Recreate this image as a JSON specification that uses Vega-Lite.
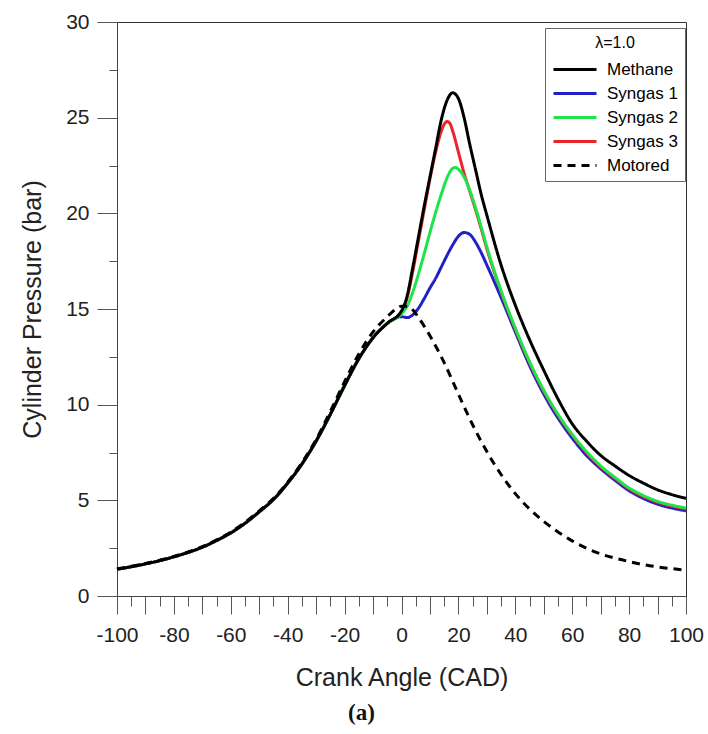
{
  "$schema": "https://vega.github.io/schema/vega-lite/v6.json",
  "width": 569,
  "height": 574,
  "autosize": {"type": "none"},
  "padding": {"left": 117, "top": 22, "right": 22, "bottom": 138},
  "background": "white",
  "config": {
    "view": {"stroke": "#333", "strokeWidth": 1},
    "font": "Liberation Sans",
    "axis": {"grid": false, "domainColor": "#444", "tickColor": "#555", "labelColor": "#222", "titleColor": "#222", "labelFont": "Liberation Sans", "titleFont": "Liberation Sans", "titleFontWeight": "normal"}
  },
  "title": {"text": "(a)", "orient": "bottom", "font": "Liberation Serif", "fontWeight": "bold", "fontSize": 23, "anchor": "middle", "dx": -40, "offset": 12, "color": "#111"},
  "data": {"values": [
    {"s":"Syngas 1","cad":-100,"p":1.4},{"s":"Syngas 1","cad":-95,"p":1.53},{"s":"Syngas 1","cad":-90,"p":1.68},{"s":"Syngas 1","cad":-85,"p":1.85},{"s":"Syngas 1","cad":-80,"p":2.05},{"s":"Syngas 1","cad":-75,"p":2.28},{"s":"Syngas 1","cad":-70,"p":2.55},{"s":"Syngas 1","cad":-65,"p":2.9},{"s":"Syngas 1","cad":-60,"p":3.3},{"s":"Syngas 1","cad":-55,"p":3.8},{"s":"Syngas 1","cad":-50,"p":4.4},{"s":"Syngas 1","cad":-45,"p":5.05},{"s":"Syngas 1","cad":-40,"p":5.9},{"s":"Syngas 1","cad":-35,"p":6.9},{"s":"Syngas 1","cad":-30,"p":8.1},{"s":"Syngas 1","cad":-25,"p":9.5},{"s":"Syngas 1","cad":-20,"p":11.0},{"s":"Syngas 1","cad":-15,"p":12.4},{"s":"Syngas 1","cad":-10,"p":13.5},{"s":"Syngas 1","cad":-5,"p":14.25},
    {"s":"Syngas 1","cad":0,"p":14.6},{"s":"Syngas 1","cad":2,"p":14.55},{"s":"Syngas 1","cad":4,"p":14.7},{"s":"Syngas 1","cad":6,"p":15.05},{"s":"Syngas 1","cad":8,"p":15.55},{"s":"Syngas 1","cad":10,"p":16.1},{"s":"Syngas 1","cad":12,"p":16.6},{"s":"Syngas 1","cad":14,"p":17.2},{"s":"Syngas 1","cad":16,"p":17.8},{"s":"Syngas 1","cad":18,"p":18.35},{"s":"Syngas 1","cad":20,"p":18.8},{"s":"Syngas 1","cad":22,"p":19.0},{"s":"Syngas 1","cad":24,"p":18.9},{"s":"Syngas 1","cad":26,"p":18.5},{"s":"Syngas 1","cad":28,"p":17.95},{"s":"Syngas 1","cad":30,"p":17.3},{"s":"Syngas 1","cad":35,"p":15.6},{"s":"Syngas 1","cad":40,"p":13.8},{"s":"Syngas 1","cad":45,"p":12.05},{"s":"Syngas 1","cad":50,"p":10.55},{"s":"Syngas 1","cad":55,"p":9.3},{"s":"Syngas 1","cad":60,"p":8.25},{"s":"Syngas 1","cad":65,"p":7.35},{"s":"Syngas 1","cad":70,"p":6.65},{"s":"Syngas 1","cad":75,"p":6.05},{"s":"Syngas 1","cad":80,"p":5.5},{"s":"Syngas 1","cad":85,"p":5.1},{"s":"Syngas 1","cad":90,"p":4.8},{"s":"Syngas 1","cad":95,"p":4.6},{"s":"Syngas 1","cad":100,"p":4.45},

    {"s":"Syngas 3","cad":-100,"p":1.4},{"s":"Syngas 3","cad":-95,"p":1.53},{"s":"Syngas 3","cad":-90,"p":1.68},{"s":"Syngas 3","cad":-85,"p":1.85},{"s":"Syngas 3","cad":-80,"p":2.05},{"s":"Syngas 3","cad":-75,"p":2.28},{"s":"Syngas 3","cad":-70,"p":2.55},{"s":"Syngas 3","cad":-65,"p":2.9},{"s":"Syngas 3","cad":-60,"p":3.3},{"s":"Syngas 3","cad":-55,"p":3.8},{"s":"Syngas 3","cad":-50,"p":4.4},{"s":"Syngas 3","cad":-45,"p":5.05},{"s":"Syngas 3","cad":-40,"p":5.9},{"s":"Syngas 3","cad":-35,"p":6.9},{"s":"Syngas 3","cad":-30,"p":8.1},{"s":"Syngas 3","cad":-25,"p":9.5},{"s":"Syngas 3","cad":-20,"p":11.0},{"s":"Syngas 3","cad":-15,"p":12.4},{"s":"Syngas 3","cad":-10,"p":13.5},{"s":"Syngas 3","cad":-5,"p":14.25},
    {"s":"Syngas 3","cad":0,"p":14.85},{"s":"Syngas 3","cad":2,"p":15.6},{"s":"Syngas 3","cad":4,"p":17.0},{"s":"Syngas 3","cad":6,"p":18.6},{"s":"Syngas 3","cad":8,"p":20.2},{"s":"Syngas 3","cad":10,"p":21.8},{"s":"Syngas 3","cad":12,"p":23.2},{"s":"Syngas 3","cad":14,"p":24.3},{"s":"Syngas 3","cad":15,"p":24.65},{"s":"Syngas 3","cad":16,"p":24.8},{"s":"Syngas 3","cad":17,"p":24.7},{"s":"Syngas 3","cad":18,"p":24.3},{"s":"Syngas 3","cad":20,"p":23.2},{"s":"Syngas 3","cad":22,"p":22.1},{"s":"Syngas 3","cad":24,"p":21.15},{"s":"Syngas 3","cad":26,"p":20.2},{"s":"Syngas 3","cad":28,"p":19.2},{"s":"Syngas 3","cad":30,"p":18.15},{"s":"Syngas 3","cad":35,"p":15.9},{"s":"Syngas 3","cad":40,"p":13.95},{"s":"Syngas 3","cad":45,"p":12.2},{"s":"Syngas 3","cad":50,"p":10.7},{"s":"Syngas 3","cad":55,"p":9.45},{"s":"Syngas 3","cad":60,"p":8.4},{"s":"Syngas 3","cad":65,"p":7.5},{"s":"Syngas 3","cad":70,"p":6.75},{"s":"Syngas 3","cad":75,"p":6.15},{"s":"Syngas 3","cad":80,"p":5.6},{"s":"Syngas 3","cad":85,"p":5.2},{"s":"Syngas 3","cad":90,"p":4.9},{"s":"Syngas 3","cad":95,"p":4.7},{"s":"Syngas 3","cad":100,"p":4.55},

    {"s":"Syngas 2","cad":-100,"p":1.4},{"s":"Syngas 2","cad":-95,"p":1.53},{"s":"Syngas 2","cad":-90,"p":1.68},{"s":"Syngas 2","cad":-85,"p":1.85},{"s":"Syngas 2","cad":-80,"p":2.05},{"s":"Syngas 2","cad":-75,"p":2.28},{"s":"Syngas 2","cad":-70,"p":2.55},{"s":"Syngas 2","cad":-65,"p":2.9},{"s":"Syngas 2","cad":-60,"p":3.3},{"s":"Syngas 2","cad":-55,"p":3.8},{"s":"Syngas 2","cad":-50,"p":4.4},{"s":"Syngas 2","cad":-45,"p":5.05},{"s":"Syngas 2","cad":-40,"p":5.9},{"s":"Syngas 2","cad":-35,"p":6.9},{"s":"Syngas 2","cad":-30,"p":8.1},{"s":"Syngas 2","cad":-25,"p":9.5},{"s":"Syngas 2","cad":-20,"p":11.0},{"s":"Syngas 2","cad":-15,"p":12.4},{"s":"Syngas 2","cad":-10,"p":13.5},{"s":"Syngas 2","cad":-5,"p":14.25},
    {"s":"Syngas 2","cad":0,"p":14.75},{"s":"Syngas 2","cad":2,"p":15.15},{"s":"Syngas 2","cad":4,"p":15.9},{"s":"Syngas 2","cad":6,"p":16.85},{"s":"Syngas 2","cad":8,"p":17.9},{"s":"Syngas 2","cad":10,"p":19.0},{"s":"Syngas 2","cad":12,"p":20.05},{"s":"Syngas 2","cad":14,"p":21.0},{"s":"Syngas 2","cad":16,"p":21.85},{"s":"Syngas 2","cad":18,"p":22.35},{"s":"Syngas 2","cad":19,"p":22.4},{"s":"Syngas 2","cad":20,"p":22.3},{"s":"Syngas 2","cad":22,"p":21.9},{"s":"Syngas 2","cad":24,"p":21.2},{"s":"Syngas 2","cad":26,"p":20.3},{"s":"Syngas 2","cad":28,"p":19.3},{"s":"Syngas 2","cad":30,"p":18.25},{"s":"Syngas 2","cad":35,"p":15.95},{"s":"Syngas 2","cad":40,"p":14.0},{"s":"Syngas 2","cad":45,"p":12.25},{"s":"Syngas 2","cad":50,"p":10.75},{"s":"Syngas 2","cad":55,"p":9.5},{"s":"Syngas 2","cad":60,"p":8.45},{"s":"Syngas 2","cad":65,"p":7.55},{"s":"Syngas 2","cad":70,"p":6.8},{"s":"Syngas 2","cad":75,"p":6.2},{"s":"Syngas 2","cad":80,"p":5.65},{"s":"Syngas 2","cad":85,"p":5.25},{"s":"Syngas 2","cad":90,"p":4.95},{"s":"Syngas 2","cad":95,"p":4.75},{"s":"Syngas 2","cad":100,"p":4.6},

    {"s":"Methane","cad":-100,"p":1.4},{"s":"Methane","cad":-95,"p":1.53},{"s":"Methane","cad":-90,"p":1.68},{"s":"Methane","cad":-85,"p":1.85},{"s":"Methane","cad":-80,"p":2.05},{"s":"Methane","cad":-75,"p":2.28},{"s":"Methane","cad":-70,"p":2.55},{"s":"Methane","cad":-65,"p":2.9},{"s":"Methane","cad":-60,"p":3.3},{"s":"Methane","cad":-55,"p":3.8},{"s":"Methane","cad":-50,"p":4.4},{"s":"Methane","cad":-45,"p":5.05},{"s":"Methane","cad":-40,"p":5.9},{"s":"Methane","cad":-35,"p":6.9},{"s":"Methane","cad":-30,"p":8.1},{"s":"Methane","cad":-25,"p":9.5},{"s":"Methane","cad":-20,"p":11.0},{"s":"Methane","cad":-15,"p":12.4},{"s":"Methane","cad":-10,"p":13.5},{"s":"Methane","cad":-5,"p":14.25},
    {"s":"Methane","cad":0,"p":14.9},{"s":"Methane","cad":2,"p":15.7},{"s":"Methane","cad":4,"p":17.2},{"s":"Methane","cad":6,"p":18.8},{"s":"Methane","cad":8,"p":20.4},{"s":"Methane","cad":10,"p":21.9},{"s":"Methane","cad":12,"p":23.4},{"s":"Methane","cad":14,"p":24.9},{"s":"Methane","cad":16,"p":25.9},{"s":"Methane","cad":18,"p":26.3},{"s":"Methane","cad":20,"p":26.0},{"s":"Methane","cad":22,"p":25.0},{"s":"Methane","cad":24,"p":23.6},{"s":"Methane","cad":26,"p":22.3},{"s":"Methane","cad":28,"p":21.0},{"s":"Methane","cad":30,"p":19.9},{"s":"Methane","cad":35,"p":17.3},{"s":"Methane","cad":40,"p":15.2},{"s":"Methane","cad":45,"p":13.4},{"s":"Methane","cad":50,"p":11.8},{"s":"Methane","cad":55,"p":10.3},{"s":"Methane","cad":60,"p":9.0},{"s":"Methane","cad":65,"p":8.1},{"s":"Methane","cad":70,"p":7.35},{"s":"Methane","cad":75,"p":6.8},{"s":"Methane","cad":80,"p":6.3},{"s":"Methane","cad":85,"p":5.9},{"s":"Methane","cad":90,"p":5.55},{"s":"Methane","cad":95,"p":5.3},{"s":"Methane","cad":100,"p":5.1},

    {"s":"Motored","cad":-100,"p":1.42},{"s":"Motored","cad":-95,"p":1.55},{"s":"Motored","cad":-90,"p":1.7},{"s":"Motored","cad":-85,"p":1.87},{"s":"Motored","cad":-80,"p":2.07},{"s":"Motored","cad":-75,"p":2.3},{"s":"Motored","cad":-70,"p":2.58},{"s":"Motored","cad":-65,"p":2.93},{"s":"Motored","cad":-60,"p":3.34},{"s":"Motored","cad":-55,"p":3.85},{"s":"Motored","cad":-50,"p":4.45},{"s":"Motored","cad":-45,"p":5.1},{"s":"Motored","cad":-40,"p":5.95},{"s":"Motored","cad":-35,"p":6.97},{"s":"Motored","cad":-30,"p":8.18},{"s":"Motored","cad":-25,"p":9.65},{"s":"Motored","cad":-20,"p":11.2},{"s":"Motored","cad":-15,"p":12.65},{"s":"Motored","cad":-10,"p":13.8},{"s":"Motored","cad":-5,"p":14.6},{"s":"Motored","cad":-2,"p":15.0},{"s":"Motored","cad":0,"p":15.15},{"s":"Motored","cad":2,"p":15.15},{"s":"Motored","cad":4,"p":14.95},{"s":"Motored","cad":6,"p":14.55},{"s":"Motored","cad":10,"p":13.6},{"s":"Motored","cad":15,"p":12.2},{"s":"Motored","cad":20,"p":10.55},{"s":"Motored","cad":25,"p":8.95},{"s":"Motored","cad":30,"p":7.55},{"s":"Motored","cad":35,"p":6.35},{"s":"Motored","cad":40,"p":5.35},{"s":"Motored","cad":45,"p":4.55},{"s":"Motored","cad":50,"p":3.9},{"s":"Motored","cad":55,"p":3.35},{"s":"Motored","cad":60,"p":2.88},{"s":"Motored","cad":65,"p":2.5},{"s":"Motored","cad":70,"p":2.2},{"s":"Motored","cad":75,"p":1.98},{"s":"Motored","cad":80,"p":1.8},{"s":"Motored","cad":85,"p":1.64},{"s":"Motored","cad":90,"p":1.52},{"s":"Motored","cad":95,"p":1.43},{"s":"Motored","cad":100,"p":1.35}
  ]},
  "layer": [
    {
      "mark": {"type": "point", "opacity": 0},
      "encoding": {
        "x": {"field": "cad", "type": "quantitative", "scale": {"domain": [-100, 100], "nice": false},
          "axis": {"orient": "bottom", "values": [-95,-85,-75,-65,-55,-45,-35,-25,-15,-5,5,15,25,35,45,55,65,75,85,95], "tickSize": 10, "labels": false, "domain": false, "title": null}},
        "y": {"field": "p", "type": "quantitative", "scale": {"domain": [0, 30], "nice": false},
          "axis": {"orient": "left", "values": [2.5,7.5,12.5,17.5,22.5,27.5], "tickSize": 8, "labels": false, "domain": false, "title": null}}
      }
    },
    {
      "mark": {"type": "line", "strokeWidth": 3, "interpolate": "monotone"},
      "encoding": {
        "x": {"field": "cad", "type": "quantitative",
          "axis": {"orient": "bottom", "values": [-100,-90,-80,-70,-60,-50,-40,-30,-20,-10,0,10,20,30,40,50,60,70,80,90,100], "tickSize": 18,
            "labelExpr": "datum.value % 20 === 0 ? '' + datum.value : ''", "labelFontSize": 21, "labelPadding": 10, "labelFlush": false, "labelOverlap": false,
            "title": "Crank Angle (CAD)", "titleFontSize": 25, "titlePadding": 20}},
        "y": {"field": "p", "type": "quantitative",
          "axis": {"orient": "left", "values": [0,5,10,15,20,25,30], "tickSize": 20, "labelFontSize": 21, "labelPadding": 8, "labelFlush": false, "labelOverlap": false,
            "title": "Cylinder Pressure (bar)", "titleFontSize": 25, "titlePadding": 20}},
        "color": {"field": "s", "type": "nominal",
          "scale": {"domain": ["Methane", "Syngas 1", "Syngas 2", "Syngas 3", "Motored"], "range": ["#000000", "#2222c4", "#1ee44a", "#e8262a", "#000000"]},
          "legend": {"title": "λ=1.0", "orient": "none", "legendX": 428, "legendY": 6, "strokeColor": "#666", "fillColor": "white", "padding": 7,
            "titleAnchor": "middle", "titleFontSize": 16, "titleFontWeight": "normal", "titlePadding": 7,
            "labelFontSize": 17, "labelOffset": 32, "symbolType": "M-1,0H3.3", "symbolSize": 400, "symbolStrokeWidth": 3, "rowPadding": 4}},
        "strokeDash": {"field": "s", "type": "nominal",
          "scale": {"domain": ["Methane", "Syngas 1", "Syngas 2", "Syngas 3", "Motored"], "range": [[1, 0], [1, 0], [1, 0], [1, 0], [8, 6]]},
          "legend": {"title": "λ=1.0"}}
      }
    }
  ],
  "resolve": {"axis": {"x": "independent", "y": "independent"}}
}
